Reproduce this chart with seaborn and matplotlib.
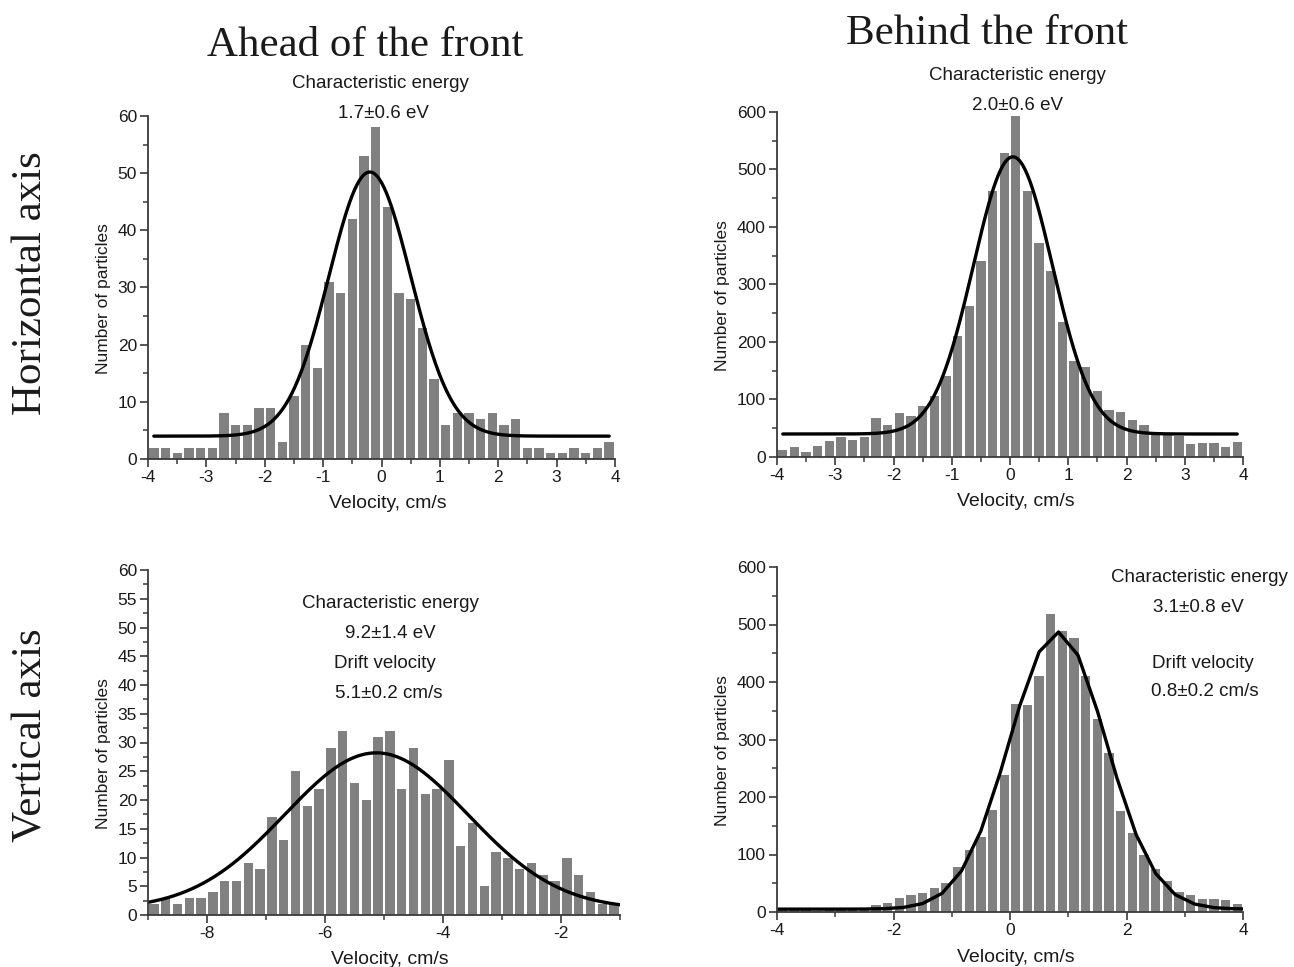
import numpy as np
import pandas as pd
import matplotlib
matplotlib.use("Agg")
import matplotlib.pyplot as plt
import seaborn as sns
from matplotlib.ticker import MultipleLocator

sns.set_theme(style="white")
plt.rcParams["font.family"] = ["Liberation Sans", "DejaVu Sans"]
plt.rcParams["axes.unicode_minus"] = False

# ---------------- data ----------------
# Horizontal axis, ahead of the front (bins from -4 to 4)
h_ahead_range = (-4.0, 4.0)
h_ahead_counts = [2, 2, 1, 2, 2, 2, 8, 6, 6, 9,
                  9, 3, 11, 20, 16, 31, 29, 42, 53, 58,
                  44, 29, 28, 23, 14, 6, 8, 8, 7, 8,
                  6, 7, 2, 2, 1, 1, 2, 1, 2, 3]
h_ahead_fit = dict(y0=4.0, A=46.2, xc=-0.2, sigma=0.70, x_from=-3.9, x_to=3.9, step=0.02)

# Horizontal axis, behind the front (bins from -4 to 4)
h_behind_range = (-4.0, 4.0)
h_behind_counts = [13, 18, 9, 19, 28, 34, 29, 35, 67, 56,
                   77, 72, 89, 106, 141, 210, 262, 340, 462, 528,
                   593, 463, 372, 323, 235, 167, 156, 115, 82, 78,
                   64, 56, 40, 38, 37, 22, 24, 25, 18, 26]
h_behind_fit = dict(y0=40.0, A=482.0, xc=0.05, sigma=0.68, x_from=-3.9, x_to=3.9, step=0.02)

# Vertical axis, ahead of the front (bins from -9 to -1)
v_ahead_range = (-9.0, -1.0)
v_ahead_counts = [2, 3, 2, 3, 3, 4, 6, 6, 9, 8,
                  17, 13, 25, 19, 22, 29, 32, 23, 20, 31,
                  32, 22, 29, 21, 22, 27, 12, 16, 5, 11,
                  10, 8, 9, 7, 6, 10, 7, 4, 2, 2]
v_ahead_fit = dict(y0=1.0, A=27.2, xc=-5.13, sigma=1.55, x_from=-9.0, x_to=-1.0, step=0.02)

# Vertical axis, behind the front (bins from -4 to 4); fit drawn from a coarse grid
v_behind_range = (-4.0, 4.0)
v_behind_counts = [3, 3, 3, 2, 3, 3, 4, 4, 12, 15,
                   24, 30, 33, 41, 50, 78, 107, 130, 178, 239,
                   362, 360, 411, 518, 489, 477, 411, 335, 277, 175,
                   138, 99, 75, 54, 34, 29, 23, 22, 21, 14]
v_behind_fit = dict(y0=5.0, A=482.0, xc=0.82, sigma=0.83, x_from=-4.0, x_to=4.0,
                    step=1 / 3, grid_offset=1 / 6)

# Annotations
h_ahead_text = ["Characteristic energy", "1.7\u00b10.6 eV"]
h_behind_text = ["Characteristic energy", "2.0\u00b10.6 eV"]
v_ahead_text = ["Characteristic energy", "9.2\u00b11.4 eV", "Drift velocity", "5.1\u00b10.2 cm/s"]
v_behind_text = ["Characteristic energy", "3.1\u00b10.8 eV", "Drift velocity", "0.8\u00b10.2 cm/s"]

column_titles = ["Ahead of the front", "Behind the front"]
row_titles = ["Horizontal axis", "Vertical axis"]
x_label = "Velocity, cm/s"
y_label = "Number of particles"

# ---------------- figure ----------------
W, H = 1294, 967
fig = plt.figure(figsize=(W / 100, H / 100), dpi=100)
fig.patch.set_facecolor("white")


def axes_px(left, right, top, bottom):
    return fig.add_axes([left / W, 1 - bottom / H, (right - left) / W, (bottom - top) / H])


def fit_curve(p):
    off = p.get("grid_offset", 0.0)
    inner = np.arange(p["x_from"] + off, p["x_to"] - 1e-9, p["step"])
    xs = np.unique(np.concatenate([[p["x_from"]], inner, [p["x_to"]]]))
    ys = p["y0"] + p["A"] * np.exp(-(xs - p["xc"]) ** 2 / (2 * p["sigma"] ** 2))
    return xs, ys


SPINE = "#3a3a3a"
BAR = "#808080"
TXT = "#1a1a1a"


def panel(ax, rng, counts, fit, ylim, ymaj, ymin, xmaj, xmin, ylab_x):
    nb = len(counts)
    width = (rng[1] - rng[0]) / nb
    centers = rng[0] + width * (np.arange(nb) + 0.5)
    df = pd.DataFrame({"velocity": centers, "count": counts})
    sns.histplot(data=df, x="velocity", weights="count", bins=nb, binrange=rng, shrink=0.8,
                 color=BAR, edgecolor=None, linewidth=0, alpha=1.0, ax=ax)
    xs, ys = fit_curve(fit)
    sns.lineplot(x=xs, y=ys, color="black", linewidth=2.4, ax=ax, sort=False)
    ax.set_xlim(rng)
    ax.set_ylim(ylim)
    ax.yaxis.set_major_locator(MultipleLocator(ymaj))
    ax.yaxis.set_minor_locator(MultipleLocator(ymin))
    ax.xaxis.set_major_locator(MultipleLocator(xmaj))
    ax.xaxis.set_minor_locator(MultipleLocator(xmin))
    sns.despine(ax=ax)
    for s in ("left", "bottom"):
        ax.spines[s].set_color(SPINE)
        ax.spines[s].set_linewidth(1.3)
    ax.tick_params(which="major", direction="out", length=6, width=1.2, color=SPINE,
                   labelsize=12.5, left=True, bottom=True, pad=2, labelcolor=TXT)
    ax.tick_params(which="minor", direction="out", length=3.5, width=1.1, color=SPINE,
                   left=True, bottom=True)
    ax.grid(False)
    ax.set_xlabel(x_label, fontsize=14, color=TXT, va="center")
    ax.set_ylabel(y_label, fontsize=12.5, color=TXT, va="center")
    h_px = ax.get_position().height * H
    ax.xaxis.set_label_coords(0.513, -45 / h_px)
    ax.yaxis.set_label_coords(ylab_x, 0.468)
    ax.set_facecolor("white")


ax1 = axes_px(148, 615, 116, 459)
panel(ax1, h_ahead_range, h_ahead_counts, h_ahead_fit, (0, 60), 10, 5, 1, 0.5, -0.0953)
ax2 = axes_px(777, 1243, 112, 457)
panel(ax2, h_behind_range, h_behind_counts, h_behind_fit, (0, 600), 100, 50, 1, 0.5, -0.118)
ax3 = axes_px(148, 620, 570, 915)
panel(ax3, v_ahead_range, v_ahead_counts, v_ahead_fit, (0, 60), 5, 2.5, 2, 1, -0.094)
ax4 = axes_px(777, 1243, 567, 912)
panel(ax4, v_behind_range, v_behind_counts, v_behind_fit, (0, 600), 100, 50, 2, 1, -0.118)


# annotations (pixel positions)
def ftext(x, y, s, **kw):
    fig.text(x / W, 1 - y / H, s, ha="center", va="center", color=TXT, **kw)


for (x, y), s in zip([(380, 84), (383, 113)], h_ahead_text):
    ftext(x, y, s, fontsize=13.5)
for (x, y), s in zip([(1017, 76), (1017, 105)], h_behind_text):
    ftext(x, y, s, fontsize=13.5)
for (x, y), s in zip([(390, 604), (390, 633), (385, 663), (389, 693)], v_ahead_text):
    ftext(x, y, s, fontsize=13.5)
for (x, y), s in zip([(1199, 578), (1198, 607), (1203, 663), (1205, 692)], v_behind_text):
    ftext(x, y, s, fontsize=13.5)

serif = ["Liberation Serif", "DejaVu Serif"]
ftext(365, 46, column_titles[0], fontsize=31, family=serif)
ftext(987, 34, column_titles[1], fontsize=31, family=serif)
ftext(31, 283, row_titles[0], fontsize=31, family=serif, rotation=90)
ftext(31, 735, row_titles[1], fontsize=31, family=serif, rotation=90)

fig.savefig("out.png", dpi=100, facecolor="white")
